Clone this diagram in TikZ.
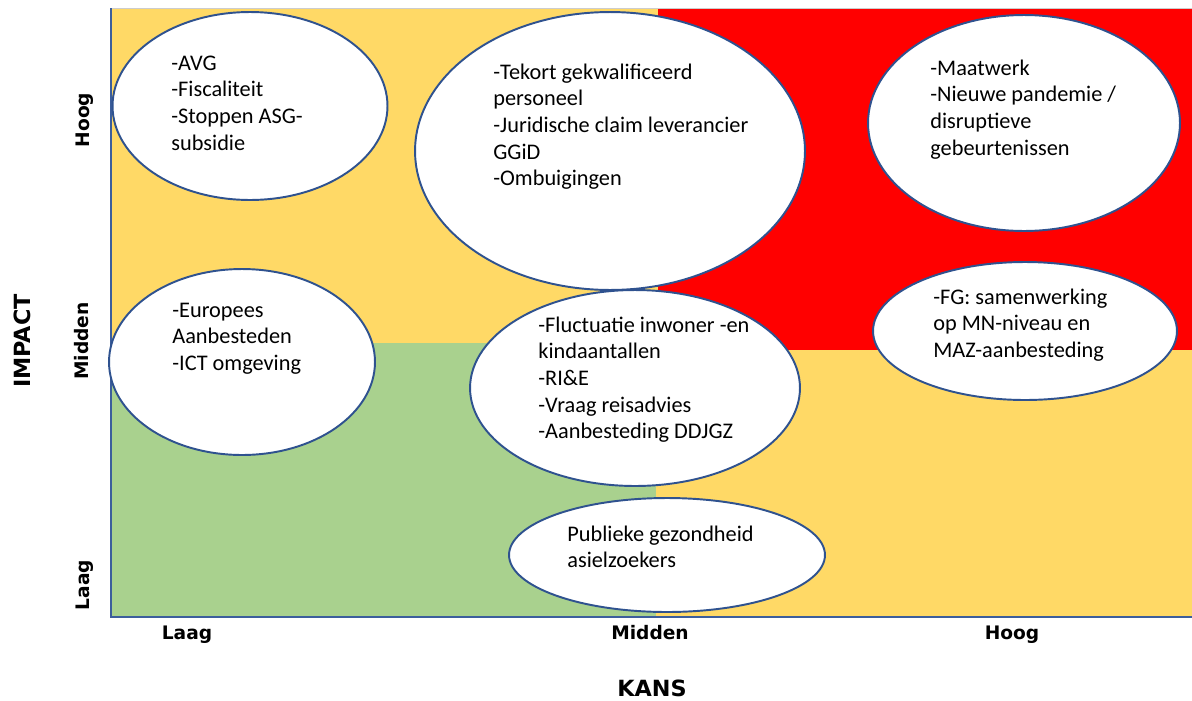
\documentclass[tikz,border=0pt]{standalone}
\usepackage{fontspec}
\setmainfont{Carlito}
\newfontfamily\axisfont{DejaVu Sans}
\usepackage{tikz}
\usetikzlibrary{shapes.geometric}

\definecolor{geel}{HTML}{FFD966}
\definecolor{groen}{HTML}{A9D18E}
\definecolor{rood}{HTML}{FF0000}
\definecolor{lijn}{HTML}{2F528F}
\definecolor{as}{HTML}{3C5E9C}

\tikzset{
  risico/.style={ellipse, draw=lijn, line width=1.1pt, fill=white, inner sep=0pt},
  tekst/.style={anchor=north west, align=left, inner sep=0pt, font=\fontsize{12.7}{15.2}\selectfont},
  aslabel/.style={anchor=base, inner sep=0pt, font=\axisfont\bfseries\fontsize{10.6}{12}\selectfont},
  astitel/.style={font=\axisfont\bfseries\fontsize{12.7}{14}\selectfont},
}

\begin{document}
\begin{tikzpicture}[x=0.02cm, y=-0.02cm]
    \useasboundingbox (0,0) rectangle (1192,700);

    % Vlakken
    \fill[geel] (111,8) rectangle (1192,617);
    \fill[groen] (111,343) rectangle (656,617);
    \fill[rood] (658,8) rectangle (1192,350);
    \draw[gray!40] (111,8) -- (1192,8);

    % Assen
    \draw[as, line width=1pt] (111,8) -- (111,617) -- (1192,617);

    % Risico's (naam/x/y/breedte/hoogte)
    \foreach \naam/\x/\y/\b/\h in {avg/250/106/5.5/3.76, tekort/610/151/7.8/5.56,
        maatwerk/1024/123/6.24/4.32, europees/242/362/5.32/3.72,
        fluct/635/388/6.6/3.92, fg/1025/331/6.08/2.76, publ/667/555/6.32/2.28} {
        \node[risico, minimum width=\b cm, minimum height=\h cm] (\naam) at (\x,\y) {};
    }

    % Teksten
    \node[tekst] (t-avg) at (171,51) {\strut-AVG\\-Fiscaliteit\\-Stoppen ASG-\\subsidie};
    \node[tekst] (t-tekort) at (493,60) {\strut-Tekort gekwalificeerd\\personeel\\-Juridische claim leverancier\\GGiD\\-Ombuigingen};
    \node[tekst] (t-maatwerk) at (930,56) {\strut-Maatwerk\\-Nieuwe pandemie /\\disruptieve\\gebeurtenissen};
    \node[tekst] (t-europees) at (172,298) {\strut-Europees\\Aanbesteden\\-ICT omgeving};
    \node[tekst] (t-fluct) at (538,313) {\strut-Fluctuatie inwoner -en\\kindaantallen\\-RI\&E\\-Vraag reisadvies\\-Aanbesteding DDJGZ};
    \node[tekst] (t-fg) at (933,285) {\strut-FG: samenwerking\\op MN-niveau en\\MAZ-aanbesteding};
    \node[tekst] (t-publ) at (567,522) {\strut Publieke gezondheid\\asielzoekers};

    % As-labels
    \node[aslabel, rotate=90] (y-hoog) at (89,120) {Hoog};
    \node[aslabel, rotate=90] (y-midden) at (88,341) {Midden};
    \node[aslabel, rotate=90] (y-laag) at (89,585) {Laag};
    \node[astitel, rotate=90] (impact) at (22,341) {IMPACT};
    \node[aslabel] (x-laag) at (187,639) {Laag};
    \node[aslabel] (x-midden) at (650,639) {Midden};
    \node[aslabel] (x-hoog) at (1012,639) {Hoog};
    \node[astitel] (kans) at (652,688) {KANS};

\end{tikzpicture}
\end{document}
